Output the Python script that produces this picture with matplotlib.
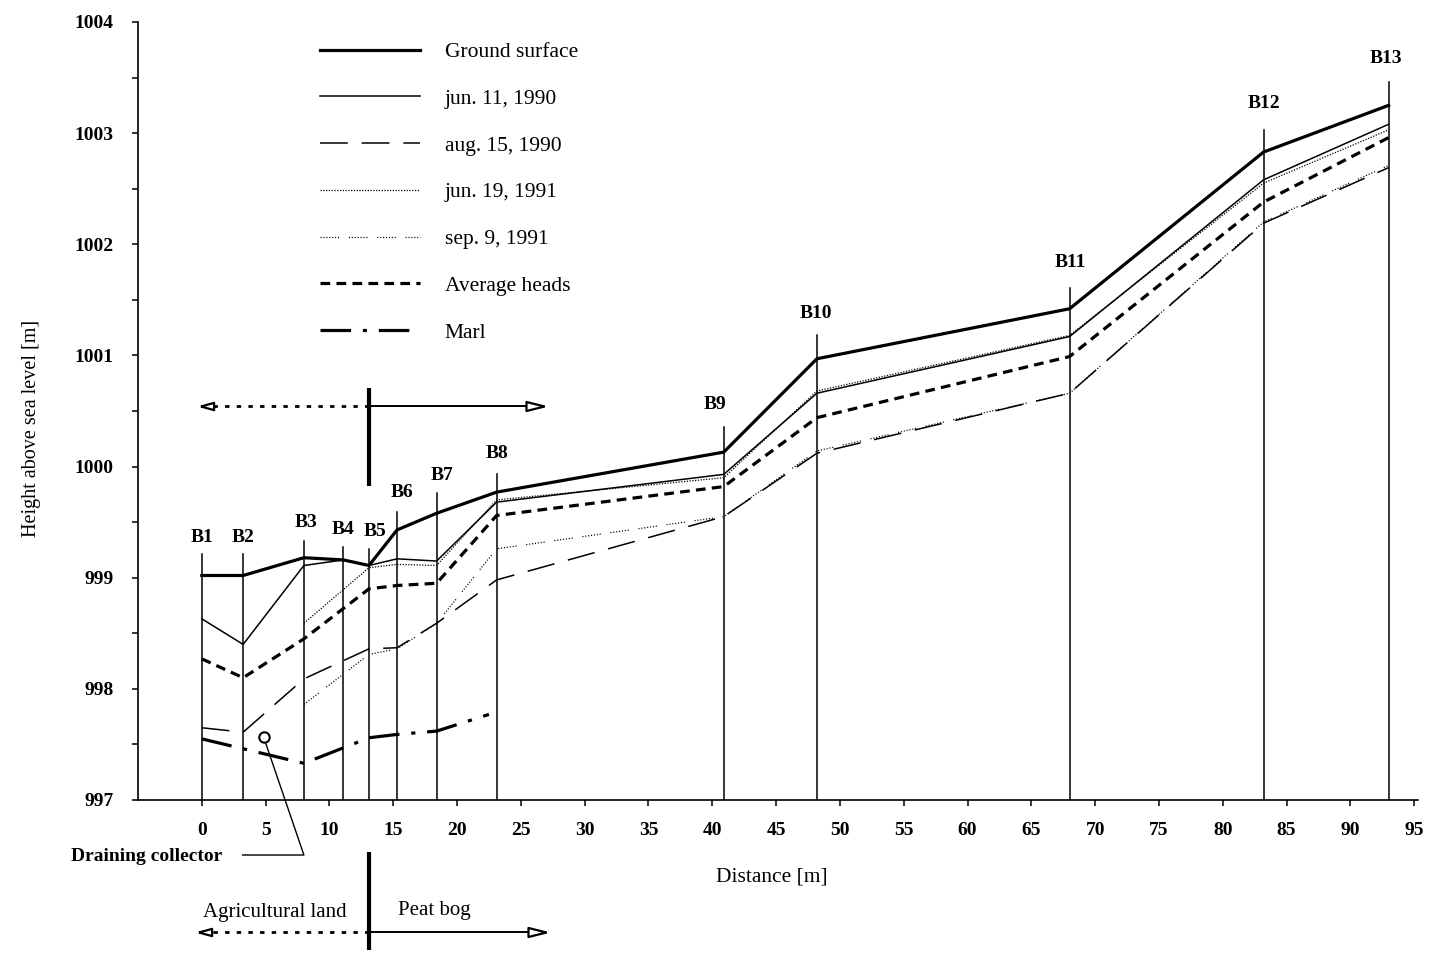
import matplotlib
matplotlib.use("Agg")
import matplotlib.pyplot as plt

plt.rcParams["font.family"] = ["Liberation Serif", "DejaVu Serif"]
plt.rcParams["lines.scale_dashes"] = False

# ---------------------------------------------------------------- data
boreholes = ["B1", "B2", "B3", "B4", "B5", "B6", "B7", "B8", "B9", "B10", "B11", "B12", "B13"]
bh_x = [0.0, 3.24, 8.0, 11.1, 13.1, 15.3, 18.4, 23.1, 40.9, 48.2, 68.0, 83.2, 93.0]
bh_top = [999.21, 999.21, 999.33, 999.28, 999.26, 999.59, 999.76, 999.93,
          1000.36, 1001.18, 1001.61, 1003.03, 1003.46]

ground = [999.02, 999.02, 999.18, 999.16, 999.11, 999.43, 999.58, 999.77,
          1000.13, 1000.97, 1001.42, 1002.83, 1003.25]
jun11_1990 = [998.63, 998.40, 999.11, 999.16, 999.11, 999.17, 999.15, 999.68,
              999.93, 1000.66, 1001.17, 1002.58, 1003.08]

aug_x = [0.0, 3.24, 8.0, 13.1, 15.3, 18.4, 23.1, 40.9, 48.2, 68.0, 83.2, 93.0]
aug15_1990 = [997.65, 997.61, 998.09, 998.36, 998.37, 998.59, 998.98,
              999.55, 1000.12, 1000.66, 1002.19, 1002.69]

late_x = [8.0, 13.1, 15.3, 18.4, 23.1, 40.9, 48.2, 68.0, 83.2, 93.0]
jun19_1991 = [998.59, 999.09, 999.12, 999.11, 999.70, 999.90, 1000.68, 1001.18, 1002.55, 1003.03]
sep9_1991 = [997.86, 998.31, 998.36, 998.59, 999.26, 999.55, 1000.14, 1000.66, 1002.20, 1002.71]

avg_x = [0.0, 3.24, 8.0, 13.1, 15.3, 18.4, 23.1, 40.9, 48.2, 68.0, 83.2, 93.0]
avg_heads = [998.27, 998.10, 998.45, 998.90, 998.93, 998.95, 999.56,
             999.82, 1000.44, 1000.99, 1002.38, 1002.96]

marl_x = [0.0, 8.0, 13.1, 15.3, 18.4, 22.5]
marl = [997.55, 997.33, 997.56, 997.59, 997.62, 997.77]

collector_x, collector_y = 4.88, 997.57
boundary_x = 13.08          # edge between agricultural land and peat bog

x_ticks = list(range(0, 96, 5))
y_ticks = list(range(997, 1005))

# ---------------------------------------------------------------- layout
W, H = 1434, 957
fig = plt.figure(figsize=(W / 100, H / 100), dpi=100)
ax = fig.add_axes([138 / W, 1 - 800 / H, (1418 - 138) / W, 778 / H])
ax.set_xlim(-5, 95.3)
ax.set_ylim(997, 1004)

for s in ("top", "right"):
    ax.spines[s].set_visible(False)
for s in ("left", "bottom"):
    ax.spines[s].set_linewidth(1.2)

ax.set_xticks(x_ticks)
ax.set_yticks(y_ticks)
ax.set_yticks([v + 0.5 for v in y_ticks[:-1]], minor=True)
ax.tick_params(axis="both", which="both", direction="out", length=4.5, width=1.1)
ax.tick_params(axis="x", pad=11.5, labelsize=14)
ax.tick_params(axis="y", pad=13, labelsize=14)
for lab in ax.get_xticklabels() + ax.get_yticklabels():
    lab.set_fontweight("bold")

ax.set_xlabel("Distance [m]", fontsize=15.5)
ax.xaxis.label.set_va("center")
ax.xaxis.set_label_coords((772 - 138) / 1280, (800 - 877) / 778)
ax.set_ylabel("Height above sea level [m]", fontsize=14.5)
ax.yaxis.label.set_va("center")
ax.yaxis.set_label_coords((32 - 138) / 1280, (800 - 428) / 778)

# borehole verticals and names
label_dx = [0, 0, 2, 0, 6, 5, 5, 0, -9, -1, 1, 0, -3]          # px
label_dy = [12, 12, 14, 13, 13, 15, 13, 16, 18, 17, 21, 22, 19]  # px
for name, x, top, dx, dy in zip(boreholes, bh_x, bh_top, label_dx, label_dy):
    ax.plot([x, x], [997, top], color="black", lw=1.1, zorder=2)
    ax.annotate(name, (x, top), xytext=(dx * 0.72, dy * 0.72), textcoords="offset points",
                ha="center", va="baseline", fontsize=14, fontweight="bold")

# head profiles
ax.plot(bh_x, ground, color="black", lw=2.3, label="Ground surface", zorder=4)
ax.plot(bh_x, jun11_1990, color="black", lw=1.1, label="jun. 11, 1990", zorder=4)
ax.plot(aug_x, aug15_1990, color="black", lw=1.1, dashes=(20, 10), label="aug. 15, 1990", zorder=4)
ax.plot(late_x, jun19_1991, color="black", lw=0.9, dashes=(0.9, 1.1), label="jun. 19, 1991", zorder=4)
ax.plot(late_x, sep9_1991, color="black", lw=0.9,
        dashes=(0.8, 1.3, 0.8, 1.3, 0.8, 1.3, 0.8, 1.3, 0.8, 1.3, 0.8, 1.3, 0.8, 7),
        label="sep. 9, 1991", zorder=4)
ax.plot(avg_x, avg_heads, color="black", lw=2.3, dashes=(7, 4.5), label="Average heads", zorder=4)
ax.plot(marl_x, marl, color="black", lw=2.3, dashes=(22, 8.5, 3, 8.5), label="Marl", zorder=4)

ax.legend(loc="upper left", bbox_to_anchor=(320 / W, 1 - 42 / H), bbox_transform=fig.transFigure,
          frameon=False, fontsize=15.5, handlelength=4.65, handletextpad=1.15,
          labelspacing=1.24, borderpad=0, borderaxespad=0)

# draining collector
ax.plot([collector_x], [collector_y], marker="o", ms=7.5, mfc="white", mec="black", mew=1.5, zorder=6)
ax.plot([4.98, 8.0, 3.2], [997.52, 996.505, 996.505], color="black", lw=1.0, clip_on=False)
ax.text(1.6, 996.49, "Draining collector", ha="right", va="center",
        fontsize=14, fontweight="bold")

# land-use boundary arrows
left_head = [(-1, 0), (1, 0.55), (1, -0.55), (-1, 0)]
right_head = [(1, 0), (-1, 0.5), (-1, -0.5), (1, 0)]


def land_arrows(y, y_low, y_high, left_tip, right_tip):
    px = 12.76  # px per metre
    ax.plot([boundary_x, boundary_x], [y_low, y_high], color="black", lw=3.0,
            solid_capstyle="butt", clip_on=False, zorder=5)
    ax.plot([boundary_x, left_tip + 13 / px], [y, y], color="black", lw=2.0,
            dashes=(3.2, 5.2), clip_on=False)
    ax.plot([boundary_x, right_tip - 18 / px], [y, y], color="black", lw=1.4, clip_on=False)
    ax.plot([left_tip + 6.5 / px], [y], marker=left_head, ms=9.5, mfc="white",
            mec="black", mew=1.6, clip_on=False)
    ax.plot([right_tip - 9 / px], [y], marker=right_head, ms=13, mfc="white",
            mec="black", mew=1.6, clip_on=False)


land_arrows(1000.545, 999.825, 1000.707, -0.08, 26.8)
land_arrows(995.812, 995.65, 996.532, -0.23, 27.0)
ax.text(5.75, 995.99, "Agricultural land", ha="center", va="center", fontsize=15)
ax.text(18.25, 996.01, "Peat bog", ha="center", va="center", fontsize=15)

fig.savefig("out.png", dpi=100)
